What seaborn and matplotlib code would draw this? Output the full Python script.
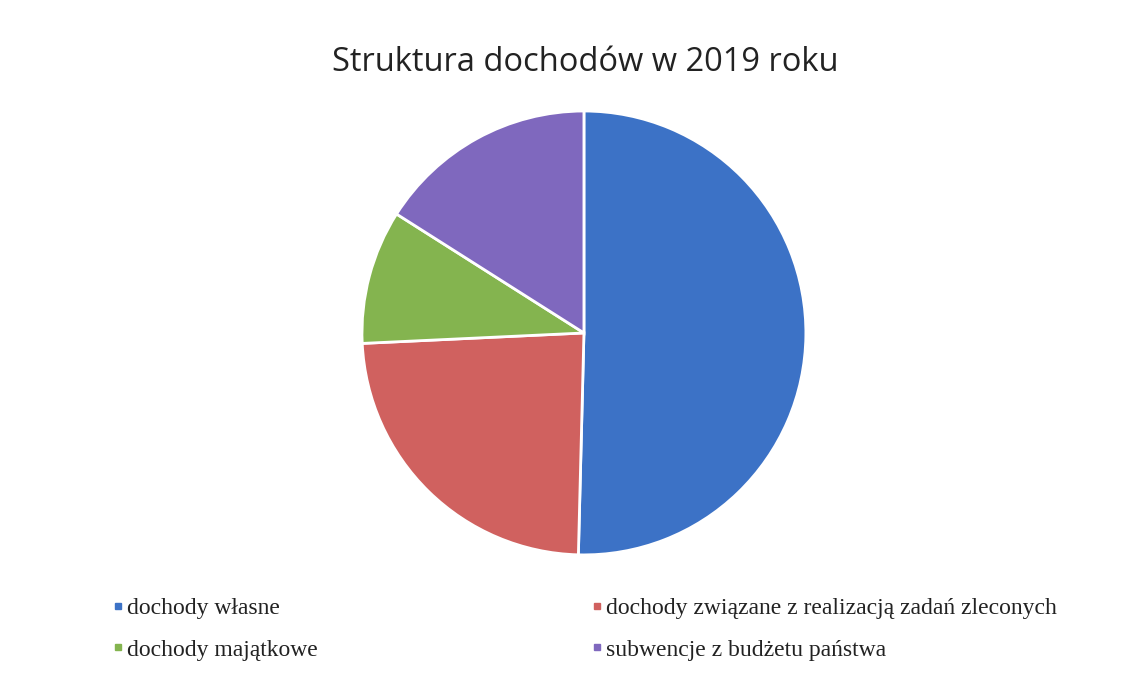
import matplotlib
matplotlib.use("Agg")
import matplotlib.pyplot as plt
from matplotlib.lines import Line2D
import seaborn as sns

# udziały (%)
categories = [
    "dochody własne",
    "dochody związane z realizacją zadań zleconych",
    "dochody majątkowe",
    "subwencje z budżetu państwa",
]
shares = [50.4, 23.85, 9.75, 16.0]
colors = ["#3C72C6", "#D0615F", "#84B44F", "#7F68BE"]

sns.set_theme(style="white")

fig = plt.figure(figsize=(11.47, 6.74), dpi=100)
fig.patch.set_facecolor("white")

ax = fig.add_axes([0.3156, 0.1766, 0.387, 0.6588])
ax.pie(shares, colors=colors, startangle=90, counterclock=False,
       wedgeprops=dict(edgecolor="white", linewidth=2))
ax.set_xlim(-1, 1)
ax.set_ylim(-1, 1)
ax.set_aspect("equal")
ax.axis("off")

fig.text(0.5105, 0.908, "Struktura dochodów w 2019 roku", ha="center", va="center",
         fontsize=23.5, family="Open Sans", color="#222222")

def handle(c):
    return Line2D([], [], marker="s", linestyle="", color=c, markersize=5)

leg_kw = dict(frameon=False, labelspacing=0.84, handletextpad=0.1,
              handlelength=0.6, borderpad=0, borderaxespad=0,
              prop=dict(family="Liberation Serif", size=17))
l1 = fig.legend([handle(colors[0]), handle(colors[2])], [categories[0], categories[2]],
                loc="upper left", bbox_to_anchor=(0.0967, 0.113), **leg_kw)
l2 = fig.legend([handle(colors[1]), handle(colors[3])], [categories[1], categories[3]],
                loc="upper left", bbox_to_anchor=(0.5143, 0.113), **leg_kw)
for leg in (l1, l2):
    for t in leg.get_texts():
        t.set_color("#222222")

fig.savefig("out.png", dpi=100, facecolor="white")
